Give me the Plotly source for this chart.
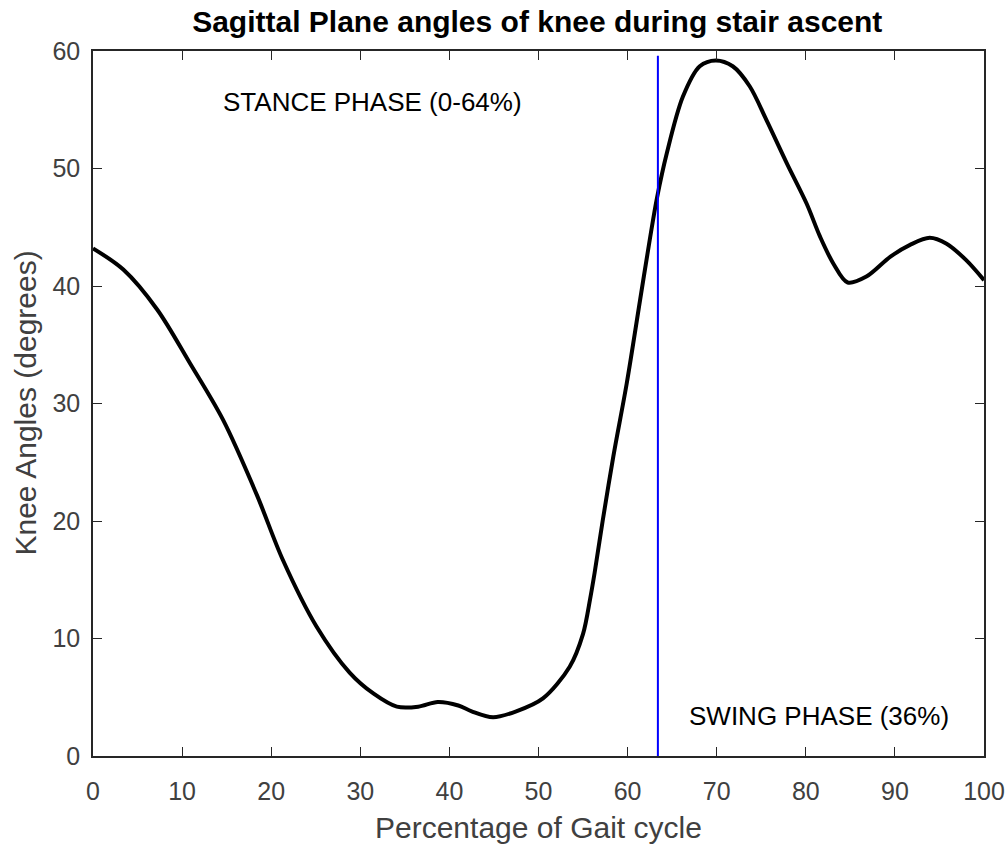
import plotly.graph_objects as go

# Knee flexion angle over one stair-ascent gait cycle
gait_pct = [0, 3.4, 7.2, 10.9, 14.6, 18.4, 21.3, 25.1, 28.8, 31.5, 34.1, 36.5,
            38.7, 41.0, 42.5, 44.9, 47.5, 50.5, 53.5, 55.0, 55.8, 56.3, 57.2,
            58.4, 59.9, 61.4, 62.5, 63.3, 64.4, 66.2, 68.1, 69.9, 71.8, 73.7,
            75.6, 77.9, 80.1, 81.6, 83.1, 84.7, 86.8, 89.5, 91.7, 93.9, 95.8,
            98.0, 100]
knee_angle = [43.2, 41.4, 38.0, 33.4, 28.6, 22.2, 16.7, 11.0, 7.1, 5.3, 4.2, 4.2,
              4.6, 4.3, 3.8, 3.3, 3.8, 4.9, 7.6, 10.4, 13.4, 15.6, 20.0,
              25.5, 31.7, 38.8, 44.0, 47.5, 51.3, 56.1, 58.7, 59.2, 58.7, 57.0,
              54.1, 50.4, 47.0, 44.2, 41.9, 40.3, 40.8, 42.5, 43.5, 44.1, 43.6,
              42.2, 40.5]

# Toe-off marker separating stance and swing
toe_off_x = [63.4, 63.4]
toe_off_y = [0, 59.6]

x_ticks = [0, 10, 20, 30, 40, 50, 60, 70, 80, 90, 100]
y_ticks = [0, 10, 20, 30, 40, 50, 60]

axis_color = "#262626"
sans = "Liberation Sans, Arial, Helvetica, sans-serif"
tick_font = dict(family=sans, size=25, color="#404040")
title_font = dict(family=sans, size=30, color="#404040")
phase_font = dict(family=sans, size=26, color="black")

fig = go.Figure()
fig.add_trace(go.Scatter(x=gait_pct, y=knee_angle, mode="lines",
                         line=dict(color="black", width=4, shape="spline", smoothing=0.9),
                         showlegend=False))
fig.add_trace(go.Scatter(x=toe_off_x, y=toe_off_y, mode="lines",
                         line=dict(color="#0000ff", width=2), showlegend=False))

fig.add_annotation(x=31.4, y=55.7, text="STANCE PHASE (0-64%)", showarrow=False,
                   font=phase_font)
fig.add_annotation(x=81.5, y=3.4, text="SWING PHASE (36%)", showarrow=False,
                   font=phase_font)

# Axis titles
fig.add_annotation(xref="paper", yref="paper", x=0.5, y=-0.102, yanchor="middle",
                   text="Percentage of Gait cycle", showarrow=False, font=title_font)
fig.add_annotation(xref="paper", yref="paper", x=-0.0763, y=0.5, xanchor="center",
                   yanchor="middle", textangle=-90, text="Knee Angles (degrees)",
                   showarrow=False, font=title_font)

axis_common = dict(ticks="inside", ticklen=9, tickcolor=axis_color, tickwidth=1.3,
                   showline=True, linecolor=axis_color, linewidth=1.5,
                   mirror="ticks", showgrid=False, zeroline=False,
                   tickfont=tick_font, automargin=False)

fig.update_layout(
    width=1008, height=844,
    margin=dict(l=93, r=24, t=51, b=88),
    paper_bgcolor="white", plot_bgcolor="white",
    title=dict(text="<b>Sagittal Plane angles of knee during stair ascent</b>",
               x=0.533, xanchor="center", y=0.974, yanchor="middle",
               font=dict(family=sans, size=30, color="black")),
    xaxis=dict(range=[0, 100], tickvals=x_ticks, ticklabelstandoff=12, **axis_common),
    yaxis=dict(range=[0, 60], tickvals=y_ticks, ticklabelstandoff=6, **axis_common),
)

fig.write_html("out.html")
